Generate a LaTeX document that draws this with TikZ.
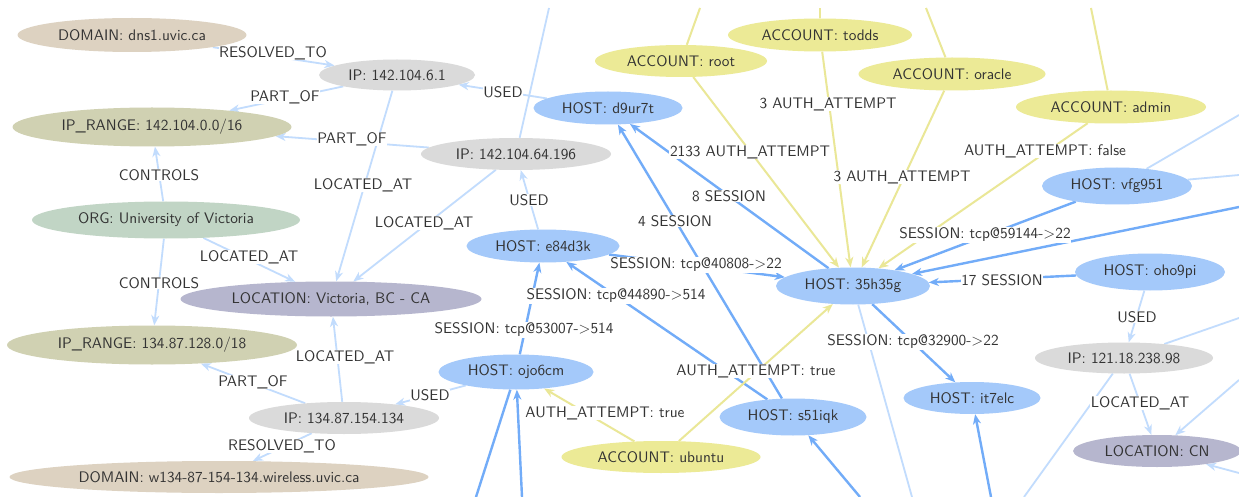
\documentclass[tikz,border=0pt]{standalone}
\usepackage{fontspec}
\setsansfont{lmsans10-regular.otf}
\usetikzlibrary{shapes.geometric,arrows.meta,backgrounds}
\definecolor{hostc}{HTML}{A4C9FA}
\definecolor{ipc}{HTML}{DADADA}
\definecolor{domc}{HTML}{DDD2C1}
\definecolor{rngc}{HTML}{D0D1B2}
\definecolor{orgc}{HTML}{C1D5C5}
\definecolor{locc}{HTML}{B6B6CE}
\definecolor{accc}{HTML}{ECEA96}
\definecolor{lbc}{HTML}{C2DCFD}
\definecolor{dbc}{HTML}{72ACF8}
\definecolor{ylc}{HTML}{EAE797}
\definecolor{txt}{HTML}{333333}
\newcommand\gfnt{\sffamily\fontsize{15.3}{18}\selectfont}
\tikzset{
  nd/.style={ellipse, inner sep=0pt, text=txt, font=\gfnt},
  sz/.style 2 args={minimum width=#1pt, minimum height=#2pt},
  host/.style={nd, fill=hostc},
  ipn/.style={nd, fill=ipc},
  dom/.style={nd, fill=domc},
  rng/.style={nd, fill=rngc},
  org/.style={nd, fill=orgc},
  loc/.style={nd, fill=locc},
  acc/.style={nd, fill=accc},
  lb/.style={fill=white, inner sep=0.6pt, text=txt, font=\gfnt},
  tip/.style={-{Stealth[length=10pt,width=8pt,inset=3pt]}},
  lline/.style={draw=lbc, line width=1.8pt},
  le/.style={lline, tip},
  dline/.style={draw=dbc, line width=2.4pt},
  de/.style={dline, tip},
  yline/.style={draw=ylc, line width=2pt},
  ye/.style={yline, tip},
}
\begin{document}
\begin{tikzpicture}[x=1pt,y=-1pt]
\useasboundingbox (0,0) rectangle (1239,497);
% nodes
\node[dom, sz={229}{34}] (dns1) at (132,35) {DOMAIN: dns1.uvic.ca};
\node[ipn, sz={156}{31}] (ip61) at (397,75) {IP: 142.104.6.1};
\node[rng, sz={279}{39}] (rng142) at (152,127) {IP\_RANGE: 142.104.0.0/16};
\node[org, sz={268}{37}] (org) at (166,220) {ORG: University of Victoria};
\node[loc, sz={301}{35}] (vic) at (331,299) {LOCATION: Victoria, BC - CA};
\node[rng, sz={290}{39}] (rng134) at (152,345) {IP\_RANGE: 134.87.128.0/18};
\node[ipn, sz={190}{32}] (ip134) at (344,418) {IP: 134.87.154.134};
\node[dom, sz={419}{32}] (w134) at (219,477) {DOMAIN: w134-87-154-134.wireless.uvic.ca};
\node[ipn, sz={190}{32}] (ip196) at (516,154) {IP: 142.104.64.196};
\node[host, sz={149}{33}] (d9) at (608,108) {HOST: d9ur7t};
\node[host, sz={153}{33}] (e84) at (543,246) {HOST: e84d3k};
\node[host, sz={155}{35}] (ojo) at (516,372) {HOST: ojo6cm};
\node[acc, sz={199}{32}] (ubuntu) at (661,457) {ACCOUNT: ubuntu};
\node[host, sz={147}{37}] (s51) at (793,417) {HOST: s51iqk};
\node[host, sz={154}{37}] (h35) at (853,286) {HOST: 35h35g};
\node[host, sz={137}{32}] (it7) at (972,398) {HOST: it7elc};
\node[host, sz={150}{37}] (oho) at (1150,272) {HOST: oho9pi};
\node[ipn, sz={178}{31}] (ip121) at (1124,358) {IP: 121.18.238.98};
\node[loc, sz={168}{32}] (cn) at (1157,451) {LOCATION: CN};
\node[host, sz={150}{37}] (vfg) at (1117,186) {HOST: vfg951};
\node[acc, sz={172}{32}] (root) at (681,61) {ACCOUNT: root};
\node[acc, sz={184}{33}] (todds) at (820,35) {ACCOUNT: todds};
\node[acc, sz={187}{33}] (oracle) at (952,74) {ACCOUNT: oracle};
\node[acc, sz={190}{33}] (admin) at (1111,107) {ACCOUNT: admin};
% free ends
\coordinate (t1) at (549,8);
\coordinate (t2) at (700,8);
\coordinate (t3) at (820,8);
\coordinate (t4) at (926,8);
\coordinate (t5) at (1091,8);
\coordinate (r1) at (1239,115);
\coordinate (r2) at (1239,175);
\coordinate (r3) at (1239,318);
\coordinate (r4) at (1239,380);
\coordinate (r5) at (1239,473);
\coordinate (r6) at (1239,207);
\coordinate (b1) at (1024,497);
\coordinate (b2) at (912,497);
\coordinate (b3) at (991,497);
\coordinate (b4) at (860,497);
\coordinate (b5) at (522,497);
\coordinate (b6) at (476,497);
\begin{scope}[on background layer]
\fill[white] (0,0) rectangle (1239,497);
\clip (0,0) rectangle (1239,497);
% light blue
\draw[le] (dns1) -- (ip61);
\draw[le] (ip61) -- (rng142);
\draw[le] (ip196) -- (rng142);
\draw[le] (ip61) -- (vic);
\draw[le] (ip196) -- (vic);
\draw[le] (org) -- (rng142);
\draw[le] (org) -- (rng134);
\draw[le] (org) -- (vic);
\draw[le] (d9) -- (ip61);
\draw[le] (e84) -- (ip196);
\draw[le] (ip134) -- (vic);
\draw[le] (ip134) -- (rng134);
\draw[le] (ip134) -- (w134);
\draw[le] (ojo) -- (ip134);
\draw[le] (oho) -- (ip121);
\draw[le] (ip121) -- (cn);
\draw[lline] (ip196) -- (t1);
\draw[lline] (vfg) -- (r1);
\draw[lline] (vfg) -- (r2);
\draw[lline] (ip121) -- (r3);
\draw[le] (r4) -- (cn);
\draw[le] (r5) -- (cn);
\draw[lline] (ip121) -- (b1);
\draw[lline] (h35) -- (b2);
% dark blue
\draw[de] (e84) -- (h35);
\draw[de] (ojo) -- (e84);
\draw[de] (s51) -- (e84);
\draw[de] (s51) -- (d9);
\draw[de] (h35) -- (d9);
\draw[de] (vfg) -- (h35);
\draw[de] (r6) -- (h35);
\draw[de] (oho) -- (h35);
\draw[de] (h35) -- (it7);
\draw[de] (b3) -- (it7);
\draw[de] (b4) -- (s51);
\draw[de] (b5) -- (ojo);
\draw[dline] (ojo) -- (b6);
% yellow
\draw[ye] (root) -- (h35);
\draw[ye] (todds) -- (h35);
\draw[ye] (oracle) -- (h35);
\draw[ye] (admin) -- (h35);
\draw[yline] (root) -- (t2);
\draw[yline] (todds) -- (t3);
\draw[yline] (oracle) -- (t4);
\draw[yline] (admin) -- (t5);
\draw[ye] (ubuntu) -- (ojo);
\draw[ye] (ubuntu) -- (h35);
% labels
\node[lb] (l1) at (273,53) {RESOLVED\_TO};
\node[lb] (l2) at (285,97) {PART\_OF};
\node[lb] (l3) at (352,139) {PART\_OF};
\node[lb] (l4) at (159,175) {CONTROLS};
\node[lb] (l5) at (363,185) {LOCATED\_AT};
\node[lb] (l6) at (424,223) {LOCATED\_AT};
\node[lb] (l7) at (503,92) {USED};
\node[lb] (l8) at (529,200) {USED};
\node[lb] (l9) at (750,152) {2133 AUTH\_ATTEMPT};
\node[lb] (l10) at (729,196) {8 SESSION};
\node[lb] (l11) at (675,221) {4 SESSION};
\node[lb] (l12) at (828,104) {3 AUTH\_ATTEMPT};
\node[lb] (l13) at (902,177) {3 AUTH\_ATTEMPT};
\node[lb] (l14) at (1045,151) {AUTH\_ATTEMPT: false};
\node[lb] (l15) at (985,235) {SESSION: tcp@59144->22};
\node[lb] (l16) at (1002,280) {17 SESSION};
\node[lb] (l17) at (696,265) {SESSION: tcp@40808->22};
\node[lb] (l18) at (616,296) {SESSION: tcp@44890->514};
\node[lb] (l19) at (524,330) {SESSION: tcp@53007->514};
\node[lb] (l20) at (756,371) {AUTH\_ATTEMPT: true};
\node[lb] (l21) at (605,413) {AUTH\_ATTEMPT: true};
\node[lb] (l22) at (430,395) {USED};
\node[lb] (l23) at (913,342) {SESSION: tcp@32900->22};
\node[lb] (l24) at (1137,317) {USED};
\node[lb] (l25) at (1140,403) {LOCATED\_AT};
\node[lb] (l26) at (249,257) {LOCATED\_AT};
\node[lb] (l27) at (159,283) {CONTROLS};
\node[lb] (l28) at (345,357) {LOCATED\_AT};
\node[lb] (l29) at (253,382) {PART\_OF};
\node[lb] (l30) at (282,446) {RESOLVED\_TO};
\end{scope}
\end{tikzpicture}
\end{document}
